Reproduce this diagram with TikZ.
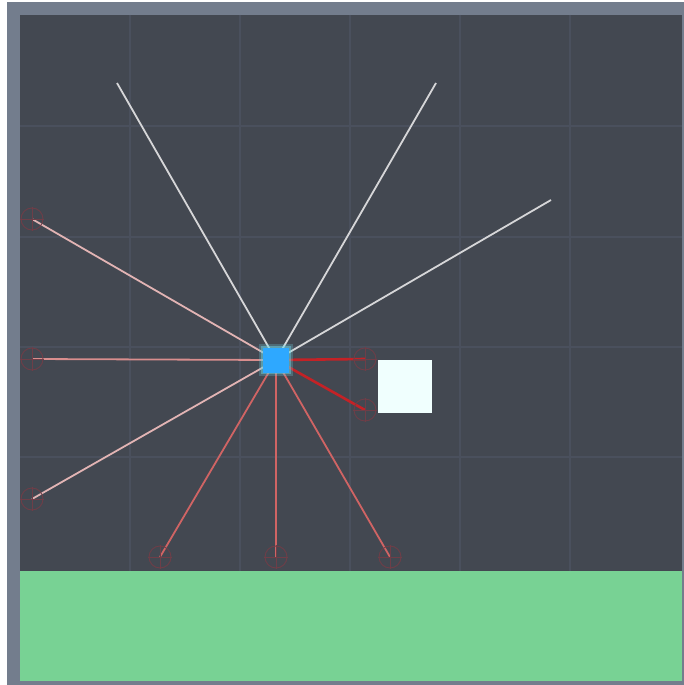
\documentclass[tikz,border=0pt]{standalone}
\begin{document}
\begin{tikzpicture}[x=1pt,y=-1pt,
  gridln/.style={draw=gridc,line width=1.2pt},
  ray/.style={line width=1.8pt},
  xhair/.style={draw=xhc,line width=0.9pt},
]
\definecolor{framec}{HTML}{737D8D}
\definecolor{bgc}{HTML}{434851}
\definecolor{gridc}{HTML}{4A505D}
\definecolor{greenc}{HTML}{78D294}
\definecolor{bluec}{HTML}{2EA8FF}
\definecolor{glowc}{HTML}{6FD6E6}
\definecolor{whitec}{HTML}{F0FFFE}
\definecolor{rayw}{HTML}{D6D6D8}
\definecolor{raypk}{HTML}{E2B4B4}
\definecolor{raypk2}{HTML}{D98E8E}
\definecolor{rayrd}{HTML}{D06464}
\definecolor{raydk}{HTML}{C42226}
\definecolor{xhc}{HTML}{6E3E48}
\useasboundingbox (0,0) rectangle (684,685);
% frame
\fill[white] (0,0) rectangle (684,685);
\fill[framec] (7,2) rectangle (684,685);
\fill[bgc] (20,15) rectangle (682,571);
\fill[greenc] (20,571) rectangle (682,681);
% grid
\foreach \gx in {130,240,350,460,570} \draw[gridln] (\gx,15) -- (\gx,571);
\foreach \gy in {126,237,347,457} \draw[gridln] (20,\gy) -- (682,\gy);
% center and target
\coordinate (c) at (276,360);
\coordinate (w1) at (117,83);
\coordinate (w2) at (436,83);
\coordinate (w3) at (551,200);
\coordinate (l1) at (32,219);
\coordinate (l2) at (32,359);
\coordinate (l3) at (32,499);
\coordinate (b1) at (160,557);
\coordinate (b2) at (276,557);
\coordinate (b3) at (390,557);
\coordinate (r1) at (365,359);
\coordinate (r2) at (365,410);
% rays
\draw[ray,rayw] (c) -- (w1);
\draw[ray,rayw] (c) -- (w2);
\draw[ray,rayw] (c) -- (w3);
\draw[ray,raypk] (c) -- (l1);
\draw[ray,raypk2] (c) -- (l2);
\draw[ray,raypk] (c) -- (l3);
\draw[ray,rayrd] (c) -- (b1);
\draw[ray,rayrd] (c) -- (b2);
\draw[ray,rayrd] (c) -- (b3);
\draw[line width=2.6pt,raydk] (c) -- (r1);
\draw[line width=2.6pt,raydk] (c) -- (r2);
% crosshairs
\foreach \p in {l1,l2,l3,b1,b2,b3,r1,r2}{
  \draw[xhair] (\p) circle (11);
  \draw[xhair] ([xshift=-12pt]\p) -- ([xshift=12pt]\p);
  \draw[xhair] ([yshift=-12pt]\p) -- ([yshift=12pt]\p);
}
% boxes
\fill[glowc,opacity=0.25] (259,344) rectangle (293,376);
\fill[glowc,opacity=0.45] (261,346) rectangle (291,374);
\node[fill=bluec,minimum width=26pt,minimum height=25pt,inner sep=0pt] (blue) at (c) {};
\node[fill=whitec,minimum width=54pt,minimum height=53pt,inner sep=0pt] (target) at (405,386.5) {};
\end{tikzpicture}
\end{document}
